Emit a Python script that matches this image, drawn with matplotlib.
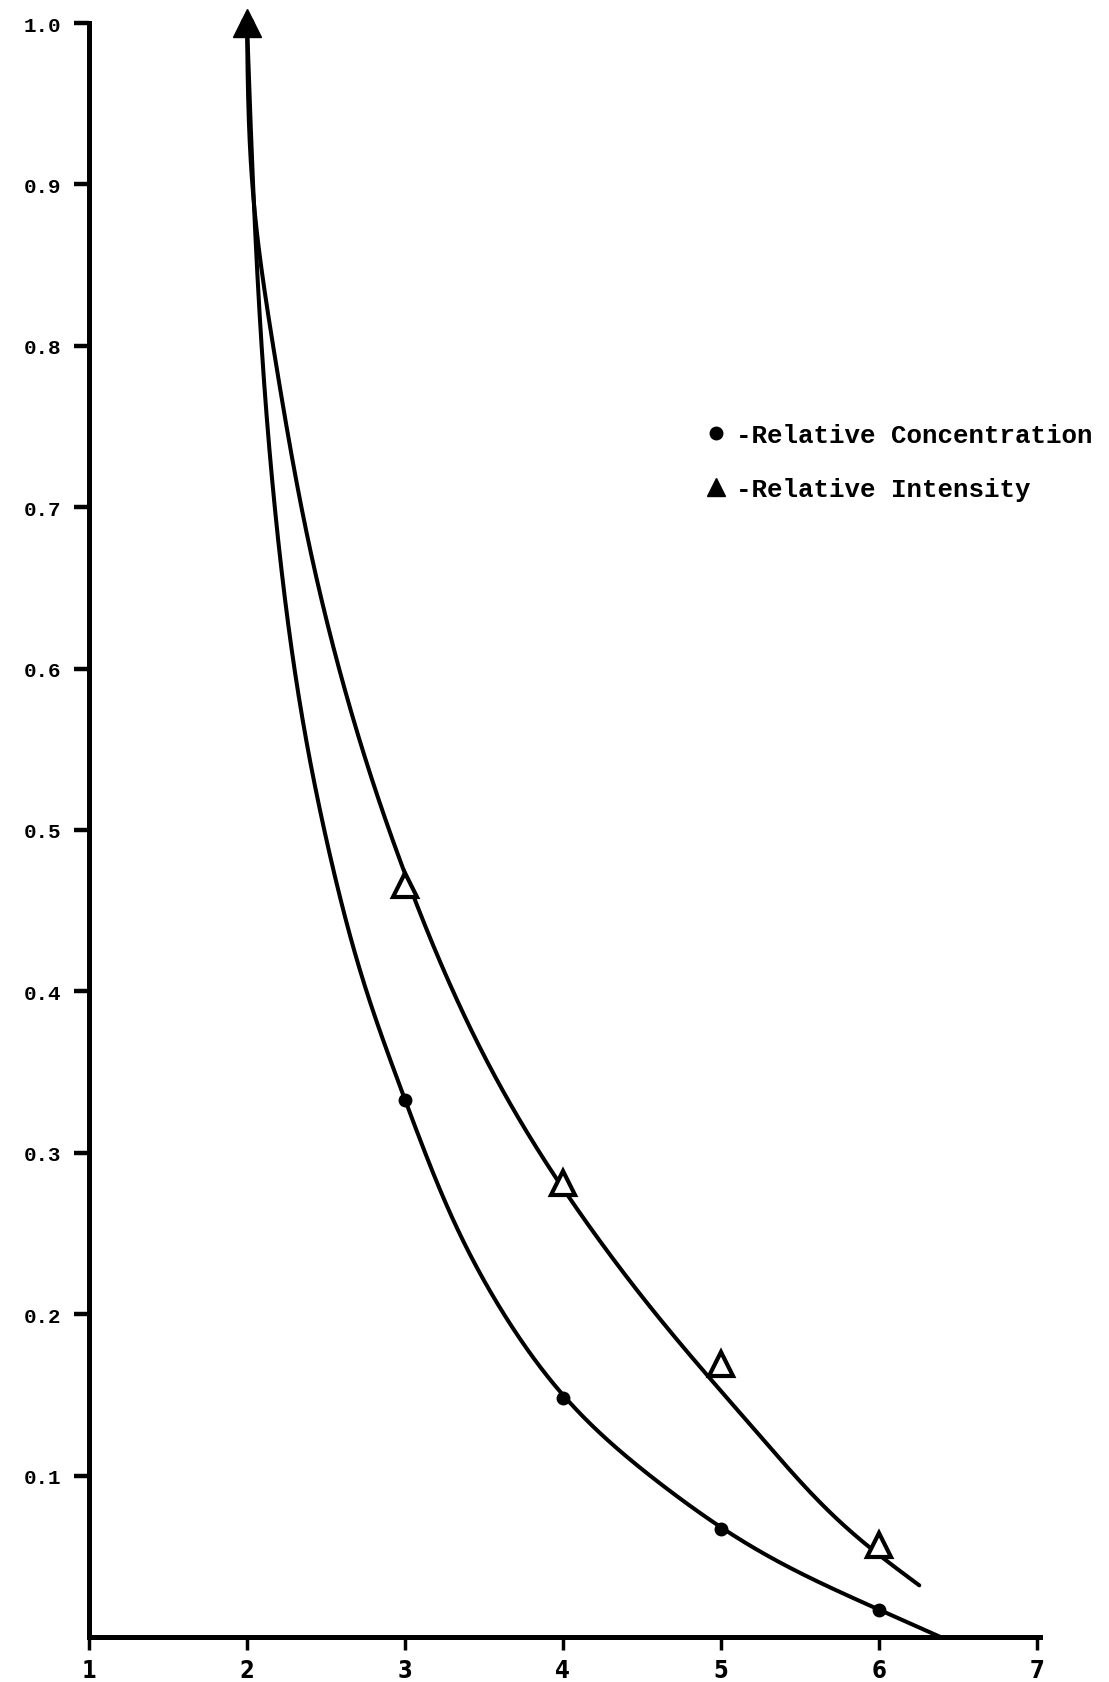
import numpy as np
import matplotlib
matplotlib.use("Agg")
from matplotlib import pyplot as plt
from matplotlib.lines import Line2D

# measured points
conc_x = [2, 3, 4, 5, 6]
conc_y = [1.0, 0.333, 0.148, 0.067, 0.017]
int_x = [2, 3, 4, 5, 6]
int_y = [1.0, 0.466, 0.281, 0.169, 0.057]

# hand-drawn curves
conc_curve_x = [2.0, 2.047, 2.115, 2.209, 2.295, 2.412, 2.56, 2.745, 3.0,
                3.337, 3.697, 4.0, 4.746, 5.0, 5.359, 6.0, 6.39]
conc_curve_y = [1.0, 0.880, 0.767, 0.668, 0.602, 0.535, 0.469, 0.402, 0.333,
                0.250, 0.188, 0.148, 0.085, 0.067, 0.046, 0.017, 0.0]
int_curve_x = [2.0, 2.047, 2.15, 2.274, 2.410, 2.575, 2.776, 2.930,
               3.645, 4.13, 4.72, 5.359, 5.675, 6.256]
int_curve_y = [1.0, 0.880, 0.809, 0.736, 0.668, 0.602, 0.535, 0.491,
               0.333, 0.259, 0.184, 0.112, 0.077, 0.032]

x_ticks = [1, 2, 3, 4, 5, 6, 7]
y_ticks = [0.1, 0.2, 0.3, 0.4, 0.5, 0.6, 0.7, 0.8, 0.9, 1.0]
labels = ["-Relative Concentration", "-Relative Intensity"]


def spline(t, v, ts):
    # natural cubic spline
    n = len(t)
    h = np.diff(t)
    A = np.zeros((n, n))
    r = np.zeros(n)
    A[0, 0] = A[-1, -1] = 1
    for i in range(1, n - 1):
        A[i, i - 1] = h[i - 1]
        A[i, i] = 2 * (h[i - 1] + h[i])
        A[i, i + 1] = h[i]
        r[i] = 6 * ((v[i + 1] - v[i]) / h[i] - (v[i] - v[i - 1]) / h[i - 1])
    M = np.linalg.solve(A, r)
    i = np.clip(np.searchsorted(t, ts) - 1, 0, n - 2)
    a = t[i + 1] - ts
    b = ts - t[i]
    hi = h[i]
    return (M[i] * a**3 / (6 * hi) + M[i + 1] * b**3 / (6 * hi)
            + (v[i] / hi - M[i] * hi / 6) * a + (v[i + 1] / hi - M[i + 1] * hi / 6) * b)


def smooth_curve(cx, cy, sigma=0.28, n=1200):
    # spline along the curve (y stretched as on the page), then a light gaussian
    # blur along its length to take out the reading noise
    cx = np.asarray(cx, float)
    sy = np.asarray(cy, float) * 10.2
    t = np.concatenate([[0], np.cumsum(np.hypot(np.diff(cx), np.diff(sy)))])
    ts = np.linspace(0, t[-1], n)
    X = spline(t, cx, ts)
    Y = spline(t, sy, ts)
    step = ts[1] - ts[0]
    k = int(4 * sigma / step)
    g = np.exp(-0.5 * (np.arange(-k, k + 1) * step / sigma) ** 2)
    g /= g.sum()

    def blur(z):
        zp = np.concatenate([2 * z[0] - z[k:0:-1], z, 2 * z[-1] - z[-2:-k - 2:-1]])
        return np.convolve(zp, g, mode="valid")

    return blur(X), blur(Y) / 10.2


fig = plt.figure(figsize=(11.09, 16.83), dpi=100)
ax = fig.add_axes([89 / 1109, 45 / 1683, 951 / 1109, 1614 / 1683])

xs, ys = smooth_curve(conc_curve_x, conc_curve_y)
ax.plot(xs, ys, color="black", lw=2.9, solid_capstyle="round", clip_on=False)
xs, ys = smooth_curve(int_curve_x, int_curve_y)
ax.plot(xs, ys, color="black", lw=2.9, solid_capstyle="round", clip_on=False)

ax.plot(conc_x, conc_y, "o", color="black", ms=9, clip_on=False, zorder=3)
ax.plot(int_x[1:], int_y[1:], "^", mfc="white", mec="black", mew=3, ms=17,
        clip_on=False, zorder=4)
ax.plot(int_x[:1], int_y[:1], "^", color="black", ms=20, clip_on=False, zorder=4)

ax.set_xlim(1, 7.02)
ax.set_ylim(0, 1.0)
ax.spines["top"].set_visible(False)
ax.spines["right"].set_visible(False)
ax.spines["left"].set_linewidth(3.6)
ax.spines["bottom"].set_linewidth(3.6)

ax.set_xticks(x_ticks)
ax.set_xticklabels([str(v) for v in x_ticks], family=["Liberation Sans Narrow", "DejaVu Sans"],
                   fontweight="bold", fontsize=17, fontstretch="condensed")
ax.set_yticks(y_ticks)
ax.set_yticklabels(["%.1f" % v for v in y_ticks], family=["Liberation Mono", "DejaVu Sans Mono"],
                   fontweight="bold", fontsize=15)
ax.tick_params(axis="x", direction="out", length=9, width=2.5, pad=6)
ax.tick_params(axis="y", direction="out", length=11, width=3.2, pad=9)

handles = [Line2D([], [], marker="o", color="black", ms=9, ls="none"),
           Line2D([], [], marker="^", color="black", ms=13, ls="none")]
fig.legend(handles, labels, loc="upper left", bbox_to_anchor=(708 / 1109, 1 - 424 / 1683),
           frameon=False, borderpad=0, borderaxespad=0, handlelength=0.6,
           handletextpad=0.5, labelspacing=1.15,
           prop={"family": ["Liberation Mono", "DejaVu Sans Mono"], "weight": "bold", "size": 18.6})

fig.savefig("out.png", dpi=100, facecolor="white")
